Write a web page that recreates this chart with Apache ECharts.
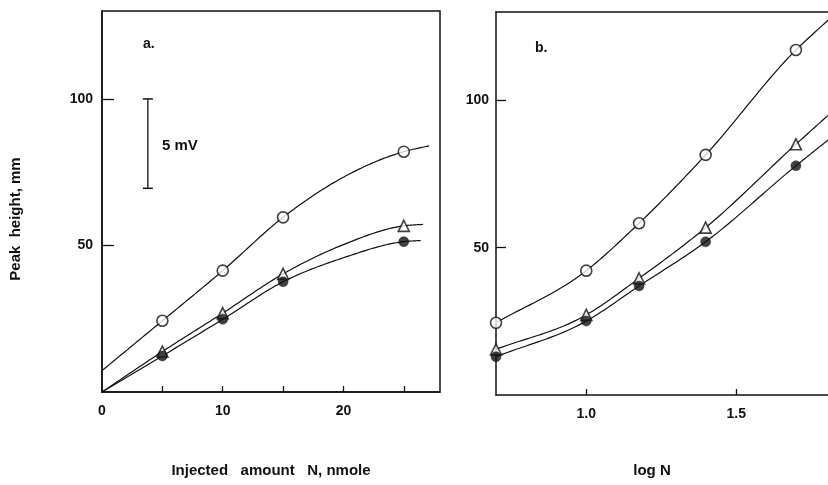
<!DOCTYPE html>
<html>
<head>
<meta charset="utf-8">
<script src="https://cdn.jsdelivr.net/npm/echarts@6/dist/echarts.min.js"></script>
<style>html,body{margin:0;padding:0;background:#fff}#c{width:828px;height:485px}</style>
</head>
<body>
<div id="c"></div>
<script>
// ---- Panel a: peak height vs injected amount N (nmole)
const nA = [5, 10, 15, 25];
const openA = [24.3, 41.4, 59.6, 82.0];
const triA = [13.8, 26.9, 40.3, 56.7];
const fillA = [12.3, 24.8, 37.6, 51.3];
// fitted curves
const openCurveA = [[0, 7.3], [5, 24.3], [10, 41.4], [15, 59.6], [20, 73.3], [25, 82.0], [27.1, 84.0]];
const triCurveA = [[0, 0], [5, 13.8], [10, 26.9], [15, 40.3], [20, 50.3], [25, 56.7], [26.6, 57.2]];
const fillCurveA = [[0, 0], [5, 12.3], [10, 24.8], [15, 37.6], [20, 45.8], [25, 51.3], [26.4, 51.7]];
const xTicksA = [5, 10, 15, 20, 25];
const xLabelsA = [0, 10, 20];
// scale bar (5 mV)
const scaleBarA = [[3.8, 69.5], [3.8, 100]];

// ---- Panel b: peak height vs log N
const logN = [0.699, 1.0, 1.176, 1.398, 1.699];
const openB = [24.5, 42.2, 58.3, 81.5, 117.1];
const triB = [15.5, 27.2, 39.6, 56.8, 85.1];
const fillB = [13.0, 25.1, 37.0, 52.0, 77.8];
const openCurveEndB = [1.807, 127.3];
const triCurveEndB = [1.807, 95.0];
const fillCurveEndB = [1.807, 86.6];
const xTicksB = [1.0, 1.5];
const yTicks = [50, 100];

const zip = (xs, ys) => xs.map((x, i) => [x, ys[i]]);
const FONT = '"Liberation Sans", Arial, sans-serif';
const INK = '#111';

const chart = echarts.init(document.getElementById('c'), null, {renderer: 'canvas'});

function xAxisBase(grid, min, max, ticks, labels, fmt) {
  return {
    type: 'value', gridIndex: grid, min: min, max: max,
    splitLine: {show: false},
    axisLine: {show: true, onZero: false, lineStyle: {color: INK, width: 1.5}},
    axisTick: {show: true, inside: true, length: 6, customValues: ticks, lineStyle: {color: INK, width: 1.3}},
    axisLabel: {show: true, customValues: labels, margin: 12, color: INK,
      fontFamily: FONT, fontWeight: 'bold', fontSize: 14, formatter: fmt}
  };
}
function yAxisBase(grid, tickLen, margin) {
  return {
    type: 'value', gridIndex: grid, min: 0, max: 130,
    splitLine: {show: false},
    axisLine: {show: true, onZero: false, lineStyle: {color: INK, width: 1.5}},
    axisTick: {show: true, inside: true, length: tickLen, customValues: yTicks, lineStyle: {color: INK, width: 1.3}},
    axisLabel: {show: true, customValues: yTicks, margin: margin, color: INK,
      fontFamily: FONT, fontWeight: 'bold', fontSize: 14}
  };
}

// smooth fitted curve through the given points, drawn in pixel space via the axes
function smoothPixels(P) {
  const n = P.length;
  const d = [], h = [];
  for (let i = 0; i < n - 1; i++) {
    h.push(P[i + 1][0] - P[i][0]);
    d.push((P[i + 1][1] - P[i][1]) / h[i]);
  }
  const m = new Array(n);
  m[0] = d[0];
  m[n - 1] = d[n - 2];
  for (let i = 1; i < n - 1; i++) {
    m[i] = (d[i - 1] * h[i] + d[i] * h[i - 1]) / (h[i - 1] + h[i]);
  }
  const out = [P[0]];
  for (let i = 0; i < n - 1; i++) {
    const x0 = P[i][0], y0 = P[i][1], x1 = P[i + 1][0], y1 = P[i + 1][1];
    const c1 = [x0 + h[i] / 3, y0 + m[i] * h[i] / 3];
    const c2 = [x1 - h[i] / 3, y1 - m[i + 1] * h[i] / 3];
    for (let k = 1; k <= 24; k++) {
      const t = k / 24, u = 1 - t;
      out.push([
        u * u * u * x0 + 3 * u * u * t * c1[0] + 3 * u * t * t * c2[0] + t * t * t * x1,
        u * u * u * y0 + 3 * u * u * t * c1[1] + 3 * u * t * t * c2[1] + t * t * t * y1
      ]);
    }
  }
  return out;
}
function curve(data, xi, yi) {
  return {type: 'custom', coordinateSystem: 'cartesian2d', xAxisIndex: xi, yAxisIndex: yi,
    data: data, encode: {x: 0, y: 1}, silent: true, z: 2,
    renderItem: function (params, api) {
      if (params.dataIndex !== 0) return null;
      const P = data.map(p => api.coord(p));
      return {type: 'polyline', shape: {points: smoothPixels(P)},
        style: {stroke: INK, lineWidth: 1.2, fill: null}};
    }};
}
function marks(data, xi, yi, kind) {
  const base = {type: 'scatter', xAxisIndex: xi, yAxisIndex: yi, data: data, z: 5, silent: true};
  if (kind === 'open') return Object.assign(base, {symbol: 'circle', symbolSize: 11,
    itemStyle: {color: '#fff', borderColor: INK, borderWidth: 1.6}});
  if (kind === 'tri') return Object.assign(base, {symbol: 'triangle', symbolSize: 11,
    itemStyle: {color: '#fff', borderColor: INK, borderWidth: 1.6}});
  return Object.assign(base, {symbol: 'circle', symbolSize: 10,
    itemStyle: {color: INK, borderColor: INK, borderWidth: 0.5}});
}

const option = {
  animation: false,
  backgroundColor: '#fff',
  grid: [
    {left: 102, top: 11, width: 338, height: 381, show: true, borderColor: INK, borderWidth: 1.5, backgroundColor: 'transparent'},
    {left: 496, top: 12, width: 332, height: 383, show: false}
  ],
  xAxis: [
    xAxisBase(0, 0, 28, xTicksA, xLabelsA, v => String(v)),
    xAxisBase(1, 0.699, 1.806, xTicksB, xTicksB, v => v.toFixed(1)),
    {type: 'value', gridIndex: 1, position: 'top', min: 0.699, max: 1.806,
      splitLine: {show: false}, axisTick: {show: false}, axisLabel: {show: false},
      axisLine: {show: true, onZero: false, lineStyle: {color: INK, width: 1.5}}}
  ],
  yAxis: [
    yAxisBase(0, 12, 9),
    yAxisBase(1, 10, 7)
  ],
  series: [
    curve(openCurveA, 0, 0),
    curve(triCurveA, 0, 0),
    curve(fillCurveA, 0, 0),
    marks(zip(nA, openA), 0, 0, 'open'),
    marks(zip(nA, triA), 0, 0, 'tri'),
    marks(zip(nA, fillA), 0, 0, 'fill'),
    {type: 'line', xAxisIndex: 0, yAxisIndex: 0, data: scaleBarA, silent: true,
      symbol: 'rect', symbolSize: [10, 1.5], showSymbol: true,
      itemStyle: {color: INK}, lineStyle: {color: INK, width: 1.3}},
    curve(zip(logN, openB).concat([openCurveEndB]), 1, 1),
    curve(zip(logN, triB).concat([triCurveEndB]), 1, 1),
    curve(zip(logN, fillB).concat([fillCurveEndB]), 1, 1),
    marks(zip(logN, openB), 1, 1, 'open'),
    marks(zip(logN, triB), 1, 1, 'tri'),
    marks(zip(logN, fillB), 1, 1, 'fill')
  ],
  graphic: [
    {type: 'text', left: 143, top: 37, style: {text: 'a.', fill: INK, font: 'bold 14px ' + FONT}},
    {type: 'text', left: 535, top: 41, style: {text: 'b.', fill: INK, font: 'bold 14px ' + FONT}},
    {type: 'text', left: 162, top: 138, style: {text: '5 mV', fill: INK, font: 'bold 15px ' + FONT}},
    {type: 'text', x: 16, y: 219, rotation: Math.PI / 2,
      style: {text: 'Peak  height, mm', fill: INK, font: 'bold 15px ' + FONT, textAlign: 'center', textVerticalAlign: 'middle'}},
    {type: 'text', x: 271, y: 471,
      style: {text: 'Injected   amount   N, nmole', fill: INK, font: 'bold 15px ' + FONT, textAlign: 'center', textVerticalAlign: 'middle'}},
    {type: 'text', x: 652, y: 471,
      style: {text: 'log N', fill: INK, font: 'bold 15px ' + FONT, textAlign: 'center', textVerticalAlign: 'middle'}}
  ]
};
chart.setOption(option);
</script>
</body>
</html>
